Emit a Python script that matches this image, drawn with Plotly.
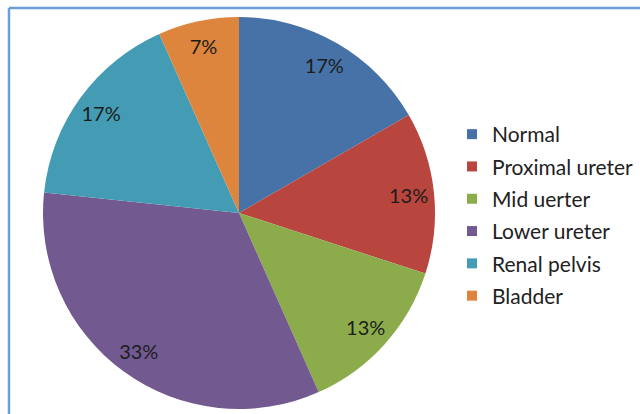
import plotly.graph_objects as go

# Location of findings (share of cases)
categories = ["Normal", "Proximal ureter", "Mid uerter", "Lower ureter", "Renal pelvis", "Bladder"]
counts = [5, 4, 4, 10, 5, 2]
colors = ["#4672a8", "#b8463f", "#8cac4c", "#725a91", "#449cb4", "#de853d"]

W, H = 640, 414
cx, cy, r = 239, 213, 196  # pie centre and radius in pixels
domain = dict(x=[(cx - r) / W, (cx + r) / W], y=[(H - cy - r) / H, (H - cy + r) / H])
label_font = dict(family="Lato", size=20, color="#1c1c1c")

fig = go.Figure()
# Filled slices
fig.add_trace(go.Pie(
    labels=categories,
    values=counts,
    sort=False,
    direction="clockwise",
    rotation=0,
    marker=dict(colors=colors, line=dict(width=0)),
    textinfo="none",
    showlegend=False,
    hoverinfo="label+percent",
    domain=domain,
))
# Transparent ring over the same data carries the percentage labels near the rim
fig.add_trace(go.Pie(
    labels=categories,
    values=counts,
    sort=False,
    direction="clockwise",
    rotation=0,
    hole=0.74,
    marker=dict(colors=["rgba(0,0,0,0)"] * len(categories), line=dict(width=0)),
    texttemplate="%{percent:.0%}",
    textposition="inside",
    insidetextorientation="horizontal",
    textfont=label_font,
    showlegend=False,
    hoverinfo="skip",
    domain=domain,
))

# Legend entries, one group each so the rows can be spaced apart
for name, col in zip(categories, colors):
    fig.add_trace(go.Scatter(
        x=[None], y=[None], mode="markers", name=name, legendgroup=name,
        marker=dict(symbol="square", size=10, color=col),
    ))

fig.update_layout(
    width=W, height=H,
    margin=dict(l=0, r=0, t=0, b=0),
    paper_bgcolor="white", plot_bgcolor="white",
    xaxis=dict(visible=False), yaxis=dict(visible=False),
    uniformtext=dict(minsize=20, mode="show"),
    legend=dict(
        x=452 / W, y=1 - 114 / H, xanchor="left", yanchor="top",
        font=dict(family="Lato", size=21, color="#222222"),
        tracegroupgap=2, bgcolor="rgba(0,0,0,0)",
    ),
    shapes=[
        dict(type="line", xref="paper", yref="paper", x0=9 / W, x1=1, y0=1 - 8 / H, y1=1 - 8 / H,
             line=dict(color="#6a9fd8", width=2.5)),
        dict(type="line", xref="paper", yref="paper", x0=9 / W, x1=9 / W, y0=0, y1=1 - 8 / H,
             line=dict(color="#6a9fd8", width=2.5)),
    ],
)

fig.write_html("out.html")
